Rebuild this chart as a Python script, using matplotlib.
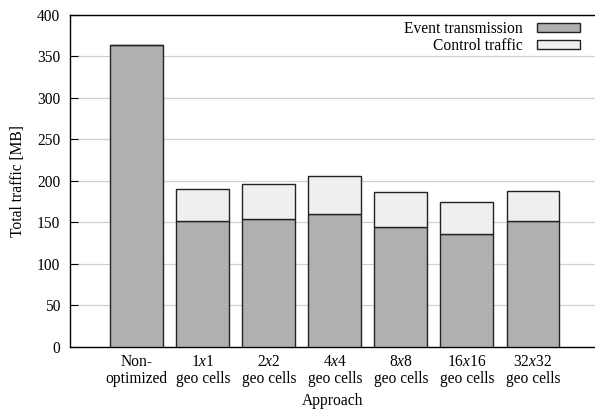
import matplotlib
matplotlib.use("Agg")
import matplotlib.pyplot as plt
import numpy as np

plt.rcParams['font.family'] = ['Liberation Serif', 'DejaVu Serif']
plt.rcParams['mathtext.fontset'] = 'custom'
plt.rcParams['mathtext.rm'] = 'Liberation Serif'
plt.rcParams['mathtext.it'] = 'Liberation Serif:italic'

categories = ["Non-\noptimized", "1$x$1\ngeo cells", "2$x$2\ngeo cells", "4$x$4\ngeo cells",
              "8$x$8\ngeo cells", "16$x$16\ngeo cells", "32$x$32\ngeo cells"]
event_tx = [364, 152, 154, 160, 144.4, 135.9, 151.3]
control = [0, 38.6, 41.9, 46.2, 42.6, 39.0, 36.9]
yticks = [0, 50, 100, 150, 200, 250, 300, 350, 400]

fig = plt.figure(figsize=(5.95, 4.11), dpi=100)
ax = fig.add_axes([70/595, 1 - 346.7/411, 525/595, 331.7/411])

x = np.arange(len(categories))
w = 0.8
edge = '#222222'
ax.bar(x, event_tx, w, color='#b0b0b0', edgecolor=edge, linewidth=1.0,
       label='Event transmission', zorder=3)
ax.bar(x, control, w, bottom=event_tx, color='#efefef', edgecolor=edge, linewidth=1.0,
       label='Control traffic', zorder=3)

ax.set_xlim(-1.01, 6.94)
ax.set_ylim(0, 400)
ax.set_yticks(yticks)
ax.set_xticks(x)
ax.set_xticklabels(categories, fontsize=11.2, linespacing=1.15)
ax.tick_params(axis='y', labelsize=11.2, direction='in', length=6, width=0.8, pad=7)
ax.tick_params(axis='x', length=0, pad=5)
ax.yaxis.grid(True, color='#d0d0d0', linewidth=0.9, zorder=0)
ax.set_axisbelow(True)
ax.spines['right'].set_visible(False)
for s in ['left', 'bottom', 'top']:
    ax.spines[s].set_linewidth(1.0)
    ax.spines[s].set_color('black')

ax.set_ylabel('Total traffic [MB]', fontsize=11.2, labelpad=8)
ax.set_xlabel('Approach', fontsize=11.2, labelpad=4)

leg = ax.legend(loc='upper right', bbox_to_anchor=(591/595, 1 - 10/411), bbox_transform=fig.transFigure,
                frameon=False, markerfirst=False, fontsize=11.2, handlelength=2.8, handleheight=0.45,
                handletextpad=0.9, labelspacing=0.08, borderpad=0.2)
for t in leg.get_texts():
    t.set_ha('right')
leg._legend_box.align = 'right'

fig.savefig('out.png', dpi=100)
